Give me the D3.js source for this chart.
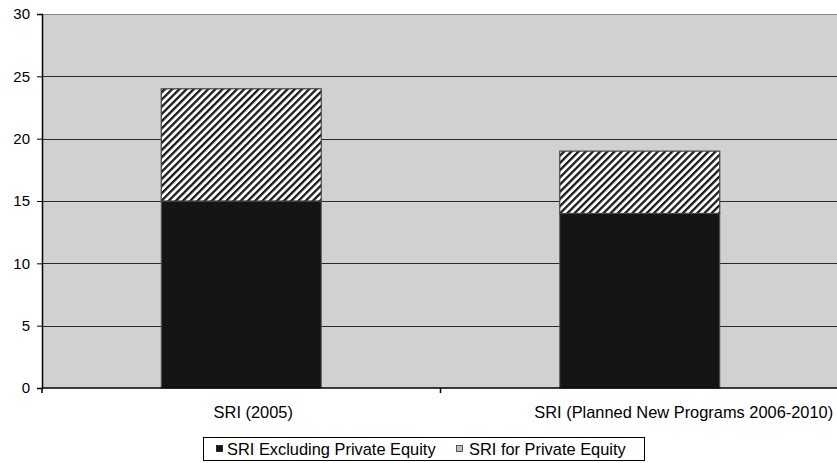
<!DOCTYPE html>
<html>
<head>
<meta charset="utf-8">
<script src="https://cdn.jsdelivr.net/npm/d3@7"></script>
<style>
  body { margin: 0; background: #fff; }
  svg { display: block; font-family: "Liberation Sans", Arial, sans-serif; }
</style>
</head>
<body>
<svg id="chart" width="837" height="463"></svg>
<script>
// Data
const categories = ["SRI (2005)", "SRI (Planned New Programs 2006-2010)"];
const seriesNames = ["SRI Excluding Private Equity", "SRI for Private Equity"];
const excludingPE = [15, 14];
const privateEquity = [9, 5];
const yTicks = [0, 5, 10, 15, 20, 25, 30];

const svg = d3.select("#chart");
const margin = { left: 42, right: -2, top: 14, bottom: 75 };
const W = 837, H = 463;
const plotW = W - margin.left - margin.right;
const plotH = H - margin.top - margin.bottom;

const x = d3.scaleBand().domain(categories).range([margin.left, margin.left + plotW]).paddingInner(0).paddingOuter(0);
const y = d3.scaleLinear().domain([0, 30]).range([margin.top + plotH, margin.top]);

// Hatch pattern for the private equity segment
const defs = svg.append("defs");
const pat = defs.append("pattern")
  .attr("id", "hatch")
  .attr("patternUnits", "userSpaceOnUse")
  .attr("width", 5.1).attr("height", 5.1)
  .attr("patternTransform", "rotate(45)");
pat.append("rect").attr("width", 5.1).attr("height", 5.1).attr("fill", "#fff");
pat.append("rect").attr("x", 0).attr("width", 2.3).attr("height", 5.1).attr("fill", "#1a1a1a");

// Plot background
svg.append("rect")
  .attr("x", margin.left).attr("y", margin.top)
  .attr("width", plotW).attr("height", plotH)
  .attr("fill", "#d0d1d3");

// Gridlines
svg.append("g").selectAll("line")
  .data(yTicks.filter(t => t > 0))
  .join("line")
  .attr("x1", margin.left).attr("x2", W)
  .attr("y1", d => Math.round(y(d)) + 0.5).attr("y2", d => Math.round(y(d)) + 0.5)
  .attr("stroke", d => d === 30 ? "#8a8a8a" : "#2a2a2a")
  .attr("stroke-width", 1.2);

// Bars
const barW = 160;
const stack = categories.map((c, i) => ({ c, a: excludingPE[i], b: privateEquity[i] }));
const g = svg.append("g");
g.selectAll("rect.base").data(stack).join("rect")
  .attr("class", "base")
  .attr("x", d => x(d.c) + x.bandwidth() / 2 - barW / 2)
  .attr("width", barW)
  .attr("y", d => y(d.a))
  .attr("height", d => y(0) - y(d.a))
  .attr("fill", "#151515")
  .attr("stroke", "#555").attr("stroke-width", 1);
g.selectAll("rect.top").data(stack).join("rect")
  .attr("class", "top")
  .attr("x", d => x(d.c) + x.bandwidth() / 2 - barW / 2)
  .attr("width", barW)
  .attr("y", d => y(d.a + d.b))
  .attr("height", d => y(d.a) - y(d.a + d.b))
  .attr("fill", "url(#hatch)")
  .attr("stroke", "#444").attr("stroke-width", 1.2);

// Y axis
const yAxis = d3.axisLeft(y).tickValues(yTicks).tickSize(5).tickPadding(7);
const ya = svg.append("g").attr("transform", `translate(${margin.left},0)`).call(yAxis);
ya.select(".domain").attr("stroke", "#000").attr("stroke-width", 1.5);
ya.selectAll(".tick line").attr("stroke", "#000");
ya.selectAll("text").attr("font-size", 15).attr("fill", "#000")
  .attr("font-family", "Liberation Sans, Arial, sans-serif");

// X axis
const xa = svg.append("g").attr("transform", `translate(0,${y(0)})`);
xa.append("line").attr("x1", margin.left).attr("x2", W).attr("stroke", "#000").attr("stroke-width", 1.5);
const bounds = [margin.left, x(categories[1]), margin.left + plotW];
xa.selectAll("line.tk").data(bounds).join("line")
  .attr("class", "tk")
  .attr("x1", d => d).attr("x2", d => d).attr("y1", 0).attr("y2", 5)
  .attr("stroke", "#000").attr("stroke-width", 1.5);

// Category labels: the long second label is pushed right against the edge
const labelShift = [12, 44];
xa.selectAll("text.cat").data(categories).join("text")
  .attr("class", "cat")
  .attr("x", (d, i) => x(d) + x.bandwidth() / 2 + labelShift[i])
  .attr("y", 30)
  .attr("text-anchor", "middle")
  .attr("font-size", 16.4).attr("fill", "#000")
  .text(d => d);

// Legend
const leg = svg.append("g");
leg.append("rect").attr("x", 203.5).attr("y", 437.5).attr("width", 441).attr("height", 23)
  .attr("fill", "#fff").attr("stroke", "#000");
const items = [
  { name: seriesNames[0], mx: 216, tx: 227, fill: "#151515", stroke: "#151515" },
  { name: seriesNames[1], mx: 456, tx: 469, fill: "#bdbdbd", stroke: "#333" }
];
items.forEach(it => {
  leg.append("rect").attr("x", it.mx + 0.5).attr("y", 445.5).attr("width", 6).attr("height", 6)
    .attr("fill", it.fill).attr("stroke", it.stroke).attr("stroke-width", 0.8);
  leg.append("text").attr("x", it.tx).attr("y", 455)
    .attr("font-size", 16.4).attr("fill", "#000").text(it.name);
});
</script>
</body>
</html>
